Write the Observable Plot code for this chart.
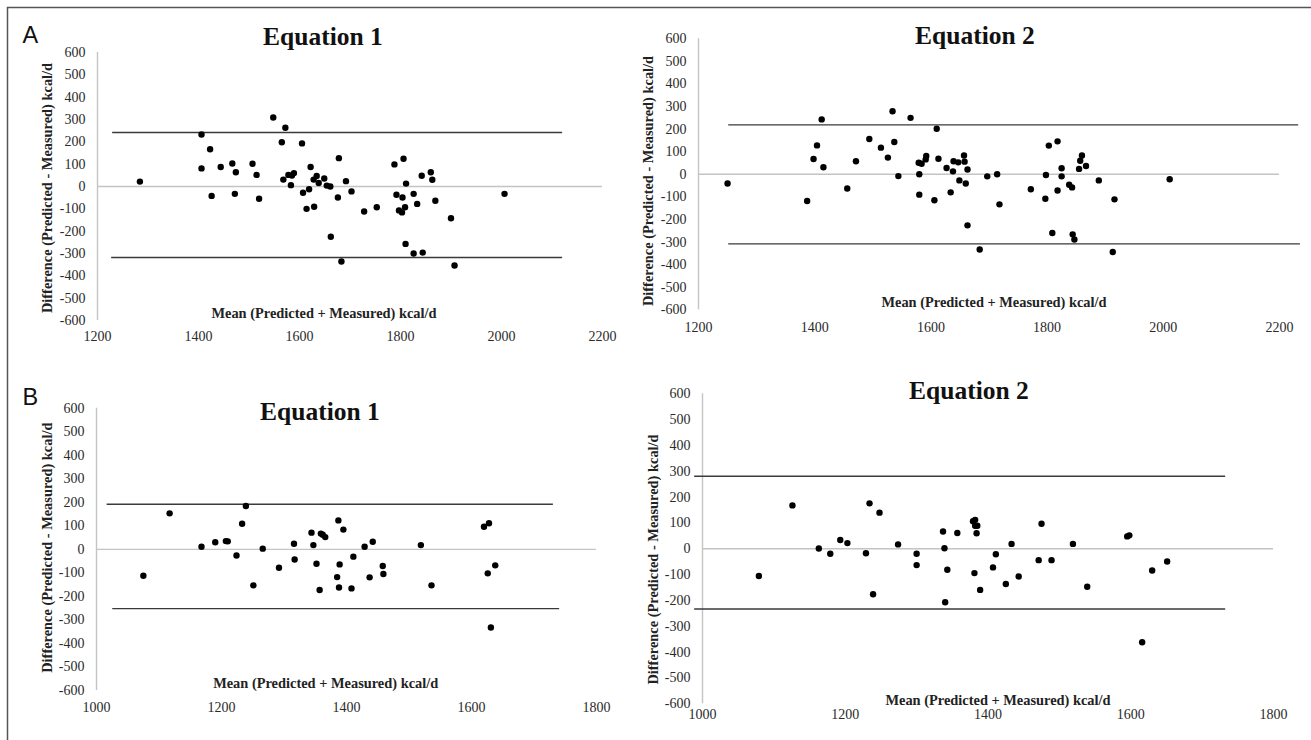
<!DOCTYPE html>
<html><head><meta charset="utf-8">
<script src="https://cdn.jsdelivr.net/npm/d3@7"></script>
<script src="https://cdn.jsdelivr.net/npm/@observablehq/plot@0.6"></script>
<style>
body{margin:0;background:#fff;}
#fig{position:relative;width:1311px;height:740px;overflow:hidden;background:#fff;}
#fig > div.panel{position:absolute;}
#overlay{position:absolute;left:0;top:0;}
</style></head><body><div id="fig"></div>
<script>
// ---- Data: [mean (predicted + measured), difference (predicted - measured)] ----
const panelA_eq1 = [[1284,22],[1406,233],[1406,81],[1423,167],[1426,-42],[1444,87],[1467,103],[1474,64],[1472,-33],[1507,102],[1515,52],[1520,-55],[1548,309],[1572,263],[1565,198],[1568,31],[1578,52],[1583,6],[1585,49],[1589,60],[1605,193],[1607,-28],[1614,-100],[1619,-12],[1622,87],[1629,-91],[1628,31],[1634,47],[1638,16],[1649,36],[1654,4],[1661,0],[1662,-225],[1678,127],[1676,-49],[1683,-336],[1692,24],[1703,-22],[1728,-112],[1753,-93],[1788,99],[1806,124],[1811,13],[1792,-37],[1804,-49],[1826,-33],[1797,-107],[1803,-116],[1809,-93],[1833,-78],[1810,-257],[1826,-300],[1844,-296],[1842,48],[1860,64],[1863,30],[1869,-64],[1900,-142],[1907,-354],[2006,-33]];
const panelA_eq2 = [[1250,-41],[1387,-118],[1398,68],[1404,128],[1412,243],[1415,31],[1456,-63],[1471,58],[1494,156],[1514,118],[1526,74],[1534,279],[1537,143],[1544,-8],[1565,250],[1579,51],[1580,0],[1580,-90],[1584,47],[1591,66],[1592,81],[1606,-115],[1610,202],[1613,69],[1627,28],[1634,-80],[1638,13],[1639,58],[1647,53],[1649,-27],[1657,83],[1658,56],[1660,-41],[1663,21],[1663,-226],[1684,-333],[1697,-9],[1714,0],[1718,-133],[1772,-66],[1797,-108],[1798,-3],[1803,127],[1818,146],[1818,-72],[1809,-260],[1825,27],[1825,-9],[1838,-46],[1843,-58],[1844,-266],[1847,-289],[1855,24],[1857,60],[1860,83],[1867,37],[1889,-27],[1913,-344],[1916,-111],[2011,-22]];
const panelB_eq1 = [[1075,-112],[1117,153],[1168,11],[1190,30],[1207,35],[1210,34],[1224,-26],[1233,109],[1239,184],[1251,-153],[1266,3],[1292,-78],[1316,24],[1317,-43],[1344,71],[1347,18],[1352,-61],[1357,-173],[1359,67],[1362,62],[1366,52],[1387,123],[1395,84],[1385,-118],[1389,-64],[1388,-162],[1408,-166],[1411,-31],[1429,11],[1442,32],[1437,-119],[1458,-71],[1459,-105],[1519,18],[1536,-153],[1620,96],[1628,111],[1626,-102],[1638,-68],[1631,-332]];
const panelB_eq2 = [[1079,-105],[1126,168],[1163,1],[1179,-19],[1193,34],[1203,22],[1229,-17],[1234,176],[1248,140],[1239,-176],[1274,17],[1300,-19],[1300,-63],[1337,67],[1339,2],[1343,-81],[1340,-207],[1357,61],[1379,107],[1382,112],[1382,89],[1385,89],[1384,60],[1381,-94],[1389,-159],[1407,-72],[1411,-21],[1425,-136],[1433,19],[1443,-107],[1475,97],[1471,-44],[1489,-44],[1519,19],[1539,-147],[1595,48],[1598,52],[1630,-84],[1651,-49],[1616,-362]];

// Limits of agreement (kcal/d) and the span of mean values each line covers
const upperLoA = [242, 219, 192, 281];
const lowerLoA = [-318, -308, -252, -233];
const upperSpan = [[1230,2121],[1252,2233],[1017,1731],[989,1733]];
const lowerSpan = [[1228,2121],[1252,2236],[1026,1741],[989,1733]];

const panelTitles = ["Equation 1", "Equation 2", "Equation 1", "Equation 2"];
const xTicksA = [1200, 1400, 1600, 1800, 2000, 2200];
const xTicksB = [1000, 1200, 1400, 1600, 1800];
const yTicks = [-600,-500,-400,-300,-200,-100,0,100,200,300,400,500,600];
const yLabel = "Difference (Predicted - Measured) kcal/d";
const xLabel = "Mean (Predicted + Measured) kcal/d";

// ---- Layout (pixels) ----
const layout = [
  {data: panelA_eq1, ticks: xTicksA, left: 0,   top: 0,   width: 640, height: 370, mL: 97, mR: 38, mT: 52, mB: 50, pad: 11,
   title: [323, 45], xlab: [324, 317.5], ylab: [46.7, 188]},
  {data: panelA_eq2, ticks: xTicksA, left: 640, top: 0,   width: 671, height: 370, mL: 58, mR: 32, mT: 38.3, mB: 60.7, pad: 12.5,
   title: [975, 44.3], xlab: [994, 307], ylab: [648, 181]},
  {data: panelB_eq1, ticks: xTicksB, left: 0,   top: 370, width: 640, height: 370, mL: 96, mR: 44, mT: 37.7, mB: 50, pad: 11.5,
   title: [320, 420], xlab: [325.7, 688], ylab: [46.7, 547.7]},
  {data: panelB_eq2, ticks: xTicksB, left: 640, top: 370, width: 671, height: 370, mL: 62, mR: 38, mT: 23.3, mB: 36.7, pad: 5,
   title: [969, 399], xlab: [998, 704.5], ylab: [653, 559.5]}
];

const serif = "'Liberation Serif', 'Times New Roman', Times, serif";
const fig = document.getElementById("fig");
const fmt = d => String(d);

layout.forEach((p, i) => {
  const xd = [p.ticks[0], p.ticks[p.ticks.length - 1]];
  const chart = Plot.plot({
    width: p.width, height: p.height,
    marginLeft: p.mL, marginRight: p.mR, marginTop: p.mT, marginBottom: p.mB,
    style: {fontFamily: serif, fontSize: "14px", color: "#2a2a2a", background: "transparent", overflow: "visible"},
    x: {domain: xd, ticks: p.ticks, tickFormat: fmt, label: null},
    y: {domain: [-600, 600], ticks: yTicks, tickFormat: fmt, label: null},
    marks: [
      Plot.axisX({ticks: p.ticks, tickFormat: fmt, tickSize: 0, tickPadding: p.pad, label: null, fontSize: 14, fontFamily: serif}),
      Plot.axisY({ticks: yTicks, tickFormat: fmt, tickSize: 0, tickPadding: 12, label: null, fontSize: 14, fontFamily: serif}),
      Plot.ruleX([xd[0]], {stroke: "#c4c4c4", strokeWidth: 1.4}),
      Plot.ruleY([0], {stroke: "#c4c4c4", strokeWidth: 1.4}),
      Plot.ruleY([upperLoA[i]], {x1: upperSpan[i][0], x2: upperSpan[i][1], stroke: "#3a3a3a", strokeWidth: 1.4}),
      Plot.ruleY([lowerLoA[i]], {x1: lowerSpan[i][0], x2: lowerSpan[i][1], stroke: "#3a3a3a", strokeWidth: 1.4}),
      Plot.dot(p.data, {x: d => d[0], y: d => d[1], r: 3.2, fill: "#000", stroke: "none"})
    ]
  });
  const wrap = document.createElement("div");
  wrap.className = "panel";
  wrap.style.left = p.left + "px";
  wrap.style.top = p.top + "px";
  wrap.appendChild(chart);
  fig.appendChild(wrap);
});

// ---- Overlay: titles, panel letters, axis labels, frame ----
const svg = d3.select(fig).append("svg").attr("id", "overlay")
  .attr("width", 1311).attr("height", 740).style("pointer-events", "none");
svg.append("line").attr("x1", 7.5).attr("x2", 7.5).attr("y1", 7).attr("y2", 740).attr("stroke", "#555").attr("stroke-width", 1.5);
svg.append("line").attr("x1", 7).attr("x2", 1311).attr("y1", 7.5).attr("y2", 7.5).attr("stroke", "#555").attr("stroke-width", 1.5);
svg.append("text").attr("x", 22.5).attr("y", 43.3).text("A")
  .attr("font-family", "'Liberation Sans', Arial, sans-serif").attr("font-size", 23.5).attr("fill", "#111");
svg.append("text").attr("x", 22.5).attr("y", 405).text("B")
  .attr("font-family", "'Liberation Sans', Arial, sans-serif").attr("font-size", 23.5).attr("fill", "#111");
layout.forEach((p, i) => {
  svg.append("text").attr("x", p.title[0]).attr("y", p.title[1]).attr("text-anchor", "middle")
    .attr("font-family", serif).attr("font-weight", "bold")
    .attr("font-size", 25.5).attr("fill", "#111").text(panelTitles[i]);
  svg.append("text").attr("x", p.xlab[0]).attr("y", p.xlab[1]).attr("text-anchor", "middle")
    .attr("font-family", serif).attr("font-weight", "bold")
    .attr("font-size", 14.4).attr("fill", "#222").text(xLabel);
  svg.append("text").attr("transform", `translate(${p.ylab[0]},${p.ylab[1]}) rotate(-90)`)
    .attr("text-anchor", "middle").attr("dy", "0.35em")
    .attr("font-family", serif).attr("font-weight", "bold")
    .attr("font-size", 14.4).attr("fill", "#222").text(yLabel);
});
</script></body></html>
